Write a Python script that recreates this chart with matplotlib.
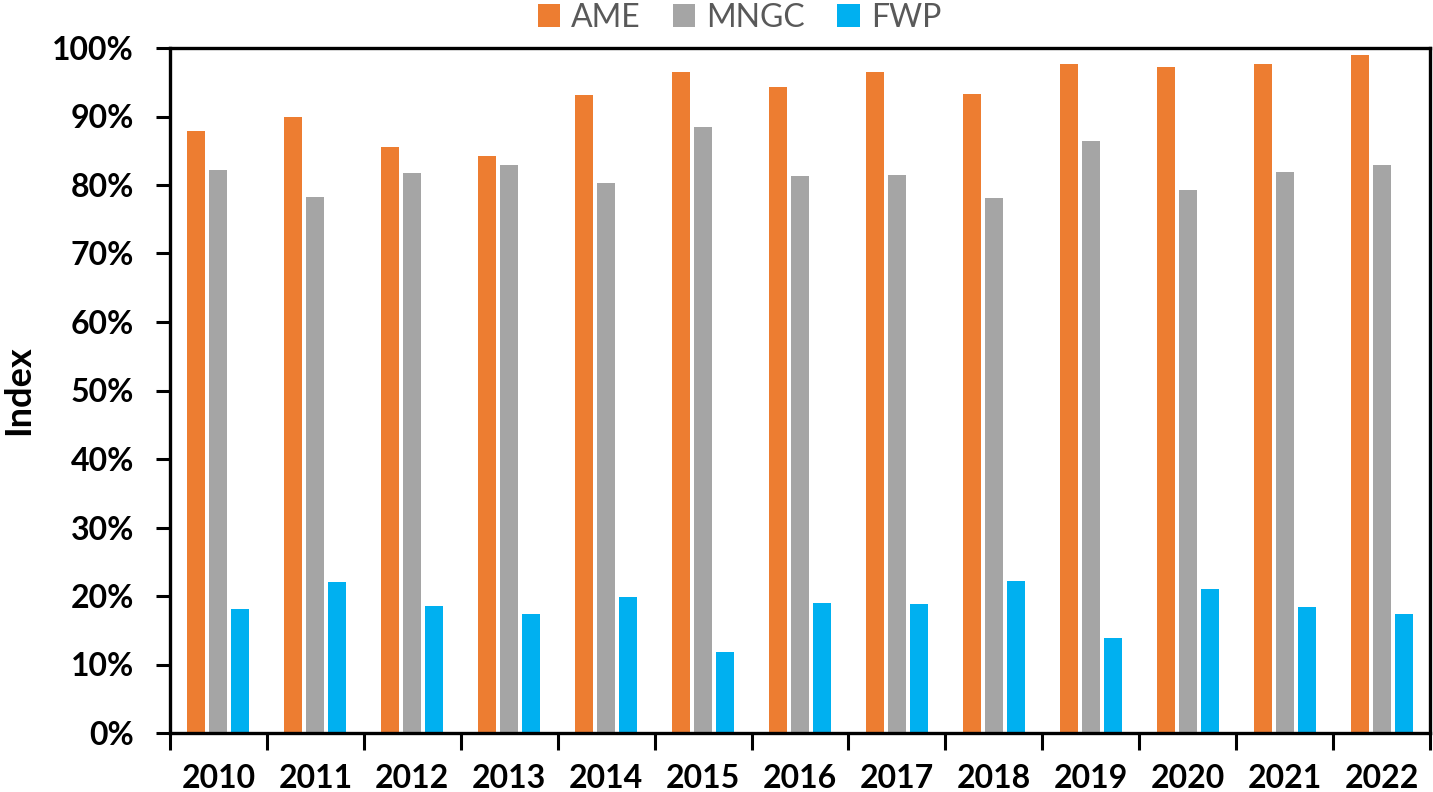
import matplotlib
matplotlib.use("Agg")
import matplotlib.pyplot as plt
import numpy as np
from matplotlib.ticker import FuncFormatter, FixedLocator

years = ["2010", "2011", "2012", "2013", "2014", "2015", "2016",
         "2017", "2018", "2019", "2020", "2021", "2022"]
ame = [87.9, 89.9, 85.5, 84.2, 93.1, 96.5, 94.3, 96.5, 93.3, 97.7, 97.2, 97.7, 99.0]
mngc = [82.2, 78.2, 81.8, 82.9, 80.3, 88.5, 81.3, 81.4, 78.1, 86.4, 79.3, 81.9, 82.9]
fwp = [18.1, 22.0, 18.5, 17.4, 19.9, 11.8, 19.0, 18.8, 22.2, 13.9, 21.0, 18.4, 17.4]
series_names = ["AME", "MNGC", "FWP"]
colors = ["#ED7D31", "#A5A5A5", "#00B0F0"]

plt.rcParams['font.family'] = ['Lato', 'DejaVu Sans']

fig = plt.figure(figsize=(14.33, 7.92), dpi=100)
ax = fig.add_axes([170/1433, 1-733/792, (1430-170)/1433, (733-48)/792])

x = np.arange(len(years))
w = 0.186
step = 0.227
for i, (vals, name, c) in enumerate(zip([ame, mngc, fwp], series_names, colors)):
    ax.bar(x + (i-1)*step, vals, width=w, color=c, label=name, zorder=2)

ax.set_xlim(-0.5, len(years)-0.5)
ax.set_ylim(0, 100)
ax.set_yticks(np.arange(0, 101, 10))
ax.yaxis.set_major_formatter(FuncFormatter(lambda v, p: f"{int(v)}%"))
ax.set_xticks(x)
ax.set_xticklabels(years)
ax.xaxis.set_minor_locator(FixedLocator(np.arange(-0.5, len(years), 1.0)))
ax.tick_params(axis='x', which='major', length=0, pad=22, labelsize=23)
ax.tick_params(axis='x', which='minor', length=12, width=2.2, direction='out')
ax.tick_params(axis='y', which='major', length=10, width=2.2, direction='out', pad=16, labelsize=23)
for lab in ax.get_xticklabels() + ax.get_yticklabels():
    lab.set_fontweight('bold')
for s in ax.spines.values():
    s.set_linewidth(2.4)
    s.set_color('black')

ax.set_ylabel("Index", fontsize=26, fontweight='bold', labelpad=12)

leg = fig.legend(loc='upper center', bbox_to_anchor=(0.516, 1.033), ncol=3, frameon=False,
                 fontsize=23, handlelength=0.7, handleheight=0.7, handletextpad=0.35,
                 columnspacing=1.0, labelcolor='#595959')

fig.savefig("out.png", dpi=100)
